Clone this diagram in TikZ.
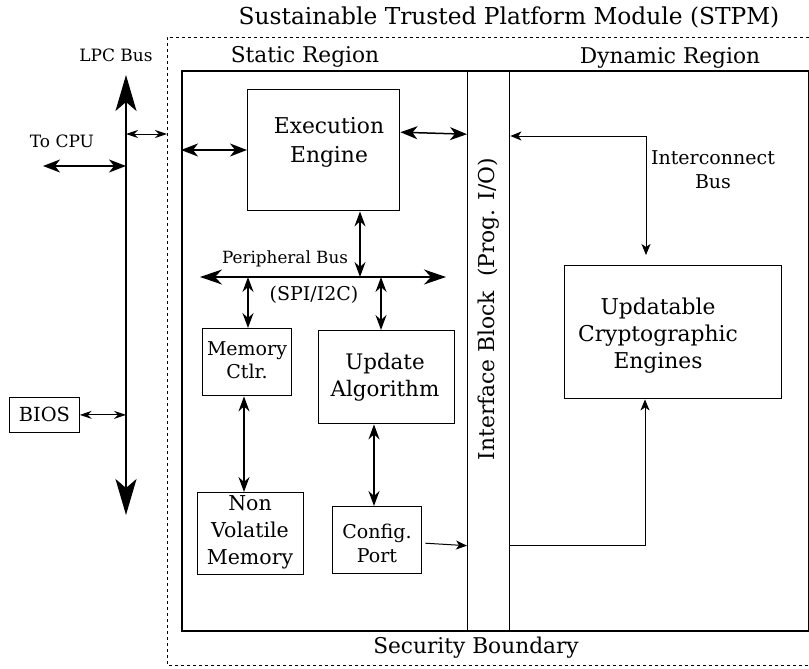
\documentclass[tikz,border=0pt]{standalone}
\usepackage{fontspec}
\setmainfont{DejaVu Serif}
\usetikzlibrary{arrows.meta}
\begin{document}
\begin{tikzpicture}[x=1pt,y=-1pt,
  box/.style={draw, line width=1.4pt, inner sep=0pt},
  txt/.style={inner sep=0pt, align=center},
  big/.style={line width=2pt, {Stealth[length=36pt,width=21pt,inset=9pt]}-{Stealth[length=36pt,width=21pt,inset=9pt]}},
  med/.style={line width=1.5pt, {Stealth[length=17pt,width=13pt,inset=5pt]}-{Stealth[length=17pt,width=13pt,inset=5pt]}},
  pbus/.style={line width=1.5pt, {Stealth[length=22pt,width=15pt,inset=7pt]}-{Stealth[length=22pt,width=15pt,inset=7pt]}},
  vmed/.style={line width=1.5pt, {Stealth[length=15pt,width=11pt,inset=5pt]}-{Stealth[length=15pt,width=11pt,inset=5pt]}},
  sml/.style={line width=1pt, {Stealth[length=12pt,width=8pt,inset=4pt]}-{Stealth[length=12pt,width=8pt,inset=4pt]}},
  one/.style={line width=1pt, -{Stealth[length=11pt,width=9pt,inset=3pt]}}
]
\useasboundingbox (0,0) rectangle (809,669);
% outer dashed security boundary
\draw[dashed, line width=0.8pt] (809,37) -- (167,37) -- (167,665) -- (809,665);
% inner box
\node[box, line width=1.8pt, minimum width=627pt, minimum height=560pt, anchor=north west] (inner) at (181,70) {};
% interface block
\node[box, line width=1.4pt, minimum width=42pt, minimum height=560pt, anchor=north west] (iface) at (467,70) {};
\node[txt, rotate=90, font=\fontsize{21.8}{26}\selectfont] (ifacet) at (489,309) {Interface Block\ \ (Prog. I/O)};

% titles
\node[txt, font=\fontsize{23.3}{28}\selectfont] (title) at (509,17) {Sustainable Trusted Platform Module (STPM)};
\node[txt, font=\fontsize{21.7}{26}\selectfont] (stat) at (305,57) {Static Region};
\node[txt, font=\fontsize{21.7}{26}\selectfont] (dyn) at (670,58) {Dynamic Region};
\node[txt, font=\fontsize{21.7}{26}\selectfont] (sec) at (476,648) {Security Boundary};

% LPC bus
\node[txt, font=\fontsize{17}{20}\selectfont] (lpct) at (116,55) {LPC Bus};
\coordinate (lpctop) at (126,75);
\coordinate (lpcbot) at (126,515);
\draw[big] (lpctop) -- (lpcbot);
\node[txt, font=\fontsize{17}{20}\selectfont] (cput) at (62,141) {To CPU};
\coordinate (cpu) at (43,166);
\draw[med] (cpu) -- (cpu -| lpctop);
\coordinate (bnd) at (167,134);
\draw[sml] (bnd -| lpctop) -- (bnd);
\node[box, line width=0.8pt, minimum width=70pt, minimum height=35pt, anchor=north west, font=\fontsize{19.4}{22}\selectfont] (bios) at (9,397) {BIOS};
\draw[sml] (bios.east) -- (bios.east -| lpctop);

% execution engine
\node[box, minimum width=152pt, minimum height=121pt, anchor=north west] (exec) at (247,89) {};
\node[txt, font=\fontsize{21.8}{29}\selectfont] (exect) at (329,142) {Execution\\Engine};
\draw[med] (inner.west |- 0,150) -- (exec.west |- 0,150);
\draw[med] ([yshift=18pt]exec.east) -- ([yshift=16pt]exec.east -| iface.west);

% peripheral bus
\coordinate (pbl) at (200,277);
\coordinate (pbr) at (446,277);
\draw[pbus] (pbl) -- (pbr);
\node[txt, font=\fontsize{16.8}{20}\selectfont] (pbt) at (285,259) {Peripheral Bus};
\node[txt, font=\fontsize{19}{22}\selectfont] (spi) at (314,295) {(SPI/I2C)};
\draw[vmed] (exec.south -| 360,0) -- (360,277);

% memory controller
\node[box, minimum width=89pt, minimum height=67pt, anchor=north west] (memc) at (202,328) {};
\node[txt, font=\fontsize{19}{23}\selectfont] (memct) at (247,360) {Memory\\Ctlr.};
\draw[vmed] (248,277) -- (memc.north -| 248,0);

% update algorithm
\node[box, minimum width=136pt, minimum height=93pt, anchor=north west] (upd) at (318,330) {};
\node[txt, font=\fontsize{21.4}{27}\selectfont] (updt) at (385,377) {Update\\Algorithm};
\draw[vmed] (381,277) -- (upd.north -| 381,0);

% non volatile memory
\node[box, minimum width=106pt, minimum height=82pt, anchor=north west] (nvm) at (197,492) {};
\node[txt, font=\fontsize{20.5}{27}\selectfont] (nvmt) at (250,532) {Non\\Volatile\\Memory};
\draw[vmed] (memc.south -| 244,0) -- (nvm.north -| 244,0);

% config port
\node[box, minimum width=89pt, minimum height=67pt, anchor=north west] (cfg) at (332,506) {};
\node[txt, font=\fontsize{19}{24}\selectfont] (cfgt) at (377,543) {Config.\\Port};
\draw[vmed] (upd.south -| 374,0) -- (cfg.north -| 374,0);
\draw[one] ([xshift=3pt,yshift=-3pt]cfg.east) -- ([yshift=-5.5pt]cfg.east -| iface.west);

% crypto engines
\node[box, minimum width=217pt, minimum height=133pt, anchor=north west] (cry) at (564,265) {};
\node[txt, font=\fontsize{21.8}{27}\selectfont] (cryt) at (658,336) {Updatable\\Cryptographic\\Engines};

% interconnect bus
\coordinate (ic) at (646,136);
\draw[one] (ic) -- (ic -| iface.east);
\draw[one] (ic) -- (ic |- 0,255);
\node[txt, font=\fontsize{19}{24}\selectfont] (ict) at (713,170) {Interconnect\\Bus};
\coordinate (low) at (645,545);
\draw[one] (low -| iface.east) -- (low) -- (low |- cry.south);
\end{tikzpicture}
\end{document}
